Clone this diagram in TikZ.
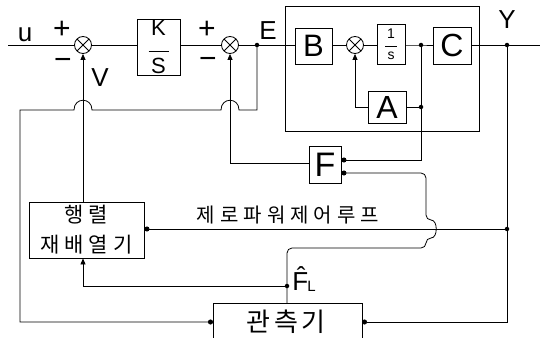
\documentclass[tikz,border=0pt]{standalone}
\usepackage{fontspec}
\setmainfont{Liberation Sans}
\newfontfamily\krf{Noto Sans CJK KR}
\usetikzlibrary{arrows.meta}
\newcommand\kk{\kern5pt}
\begin{document}
\begin{tikzpicture}[x=1pt,y=-1pt,
  line width=0.8pt,
  blk/.style={draw, line width=0.9pt, inner sep=0pt, anchor=center},
  sumn/.style={draw, circle, minimum size=17pt, inner sep=0pt,
    path picture={\draw[line width=0.8pt]
      (path picture bounding box.north west)--(path picture bounding box.south east)
      (path picture bounding box.north east)--(path picture bounding box.south west);}},
  jdot/.style={circle, fill, inner sep=0pt, minimum size=4.5pt},
  tri/.style={-{Triangle[length=6pt,width=5pt]}},
  cir/.style={-{Circle[length=5pt]}},
  lbl/.style={inner sep=0pt, font=\fontsize{26}{26}\selectfont},
  sgn/.style={inner sep=0pt, font=\fontsize{30}{30}\selectfont},
]
\useasboundingbox (0,0) rectangle (540,337);

% main path blocks
\coordinate (uin) at (8,45);
\node[sumn] (s1) at (83,45) {};
\node[blk, minimum width=43pt, minimum height=56pt, align=center,
  font=\fontsize{22}{22}\selectfont] (ks) at (158.5,47)
  {K\\[-4pt]\rule[2pt]{20pt}{0.7pt}\\[-2pt]S};
\node[sumn] (s2) at (230,45) {};
\coordinate (ej) at (257,45);
\node[draw, line width=0.9pt, minimum width=194pt, minimum height=125pt] (big) at (382,68.5) {};
\node[blk, minimum width=37pt, minimum height=36pt, font=\fontsize{31}{31}\selectfont] (B) at (313.5,46) {B};
\node[sumn] (s3) at (355,45) {};
\node[blk, minimum width=28pt, minimum height=40pt, align=center,
  font=\fontsize{14}{14}\selectfont] (I) at (391,44)
  {1\\[-4pt]\rule[2pt]{12pt}{0.6pt}\\[-3pt]s};
\coordinate (j1) at (421,45);
\node[blk, minimum width=38pt, minimum height=37pt, font=\fontsize{32}{32}\selectfont] (C) at (452,45.5) {C};
\coordinate (yj) at (507,45);
\coordinate (yend) at (540,45);
\node[blk, minimum width=38pt, minimum height=32pt, font=\fontsize{32}{32}\selectfont] (A) at (387,107) {A};
\coordinate (j2) at (421,107);
\node[blk, minimum width=32pt, minimum height=37pt, font=\fontsize{34}{34}\selectfont] (F) at (325,164.5) {F};
\coordinate (fin1) at ([yshift=4.5pt]F.east);
\coordinate (fin2) at ([yshift=-8.5pt]F.east);
\coordinate (fout) at ([yshift=1.5pt]F.west);

\node[blk, minimum width=115pt, minimum height=56pt, align=center,
  font=\krf\fontsize{21}{30}\selectfont] (M) at (86.5,230) {행\kk 렬\\재\kk 배\kk 열\kk 기};

% observer (bottom edge is cut by the picture border)
\coordinate (obsL) at (213,322);
\coordinate (obsR) at (362,322);
\coordinate (obsT) at (287,303);
\draw[line width=0.9pt] (213,340) |- (362,303) -- (362,340);
\node[inner sep=0pt, font=\krf\fontsize{26}{26}\selectfont] (O) at (286,322) {관\kern4pt 측\kern4pt 기};

\coordinate (yz) at (507,229);
\coordinate (fj) at (287,286);

% main line
\draw (uin) -- (s1.west);
\draw (s1.east) -- (s1.east -| ks.west);
\draw (ks.east |- s2.west) -- (s2.west);
\draw (s2.east) -- (s2.east -| B.west);
\draw (B.east |- s3.west) -- (s3.west);
\draw (s3.east) -- (s3.east -| I.west);
\draw (I.east |- j1) -- (j1) -- (j1 -| C.west);
\draw (C.east |- yj) -- (yend);

% inner loop
\draw[tri] (A.west |- j2) -| (s3.south);
\draw (A.east |- j2) -- (j2);
\draw[cir] (j1) |- (fin1);

% F output to sum2
\draw[tri] (fout) -| (s2.south);

% E feedback to observer, with hops
\draw[cir] (ej) |- (239,110) .. controls (239,97) and (221,97) .. (221,110)
  -- (92,110) .. controls (92,97) and (74,97) .. (74,110) -- (20,110) |- (obsL);

% rearranger to sum1
\draw[tri] (s1 |- M.north) -- (s1.south);

% Y to observer and zero power loop
\draw[cir] (yj) |- (obsR);
\draw[cir] (yz) -- (M.east |- yz);

% observer output
\draw[cir, rounded corners=5pt] (obsT) |- (426,248) -- (426,238)
  .. controls (438,238) and (438,220) .. (426,220) -- (426,173) -- (fin2);
\draw[tri] (fj) -| (s1 |- M.south);

% junctions
\foreach \p in {ej,j1,j2,yj,yz,fj} \node[jdot] at (\p) {};

% labels
\node[lbl] at (25,35) {u};
\node[sgn] at (62,30) {+};
\node[sgn] at (63,64) {−};
\node[lbl] at (100,78) {V};
\node[sgn] at (207,30) {+};
\node[sgn] at (208,63) {−};
\node[lbl] at (268,31) {E};
\node[lbl] at (507,20) {Y};
\node[inner sep=0pt, font=\krf\fontsize{20}{20}\selectfont] at (288,215)
  {제\kk 로\kk 파\kk 워\kk 제\kk 어\kk 루\kk 프};
\node[inner sep=0pt, anchor=west, font=\fontsize{26}{26}\selectfont] at (292,279)
  {\^{F}\kern-1pt\raisebox{-1pt}{\fontsize{15}{15}\selectfont L}};
\end{tikzpicture}
\end{document}
